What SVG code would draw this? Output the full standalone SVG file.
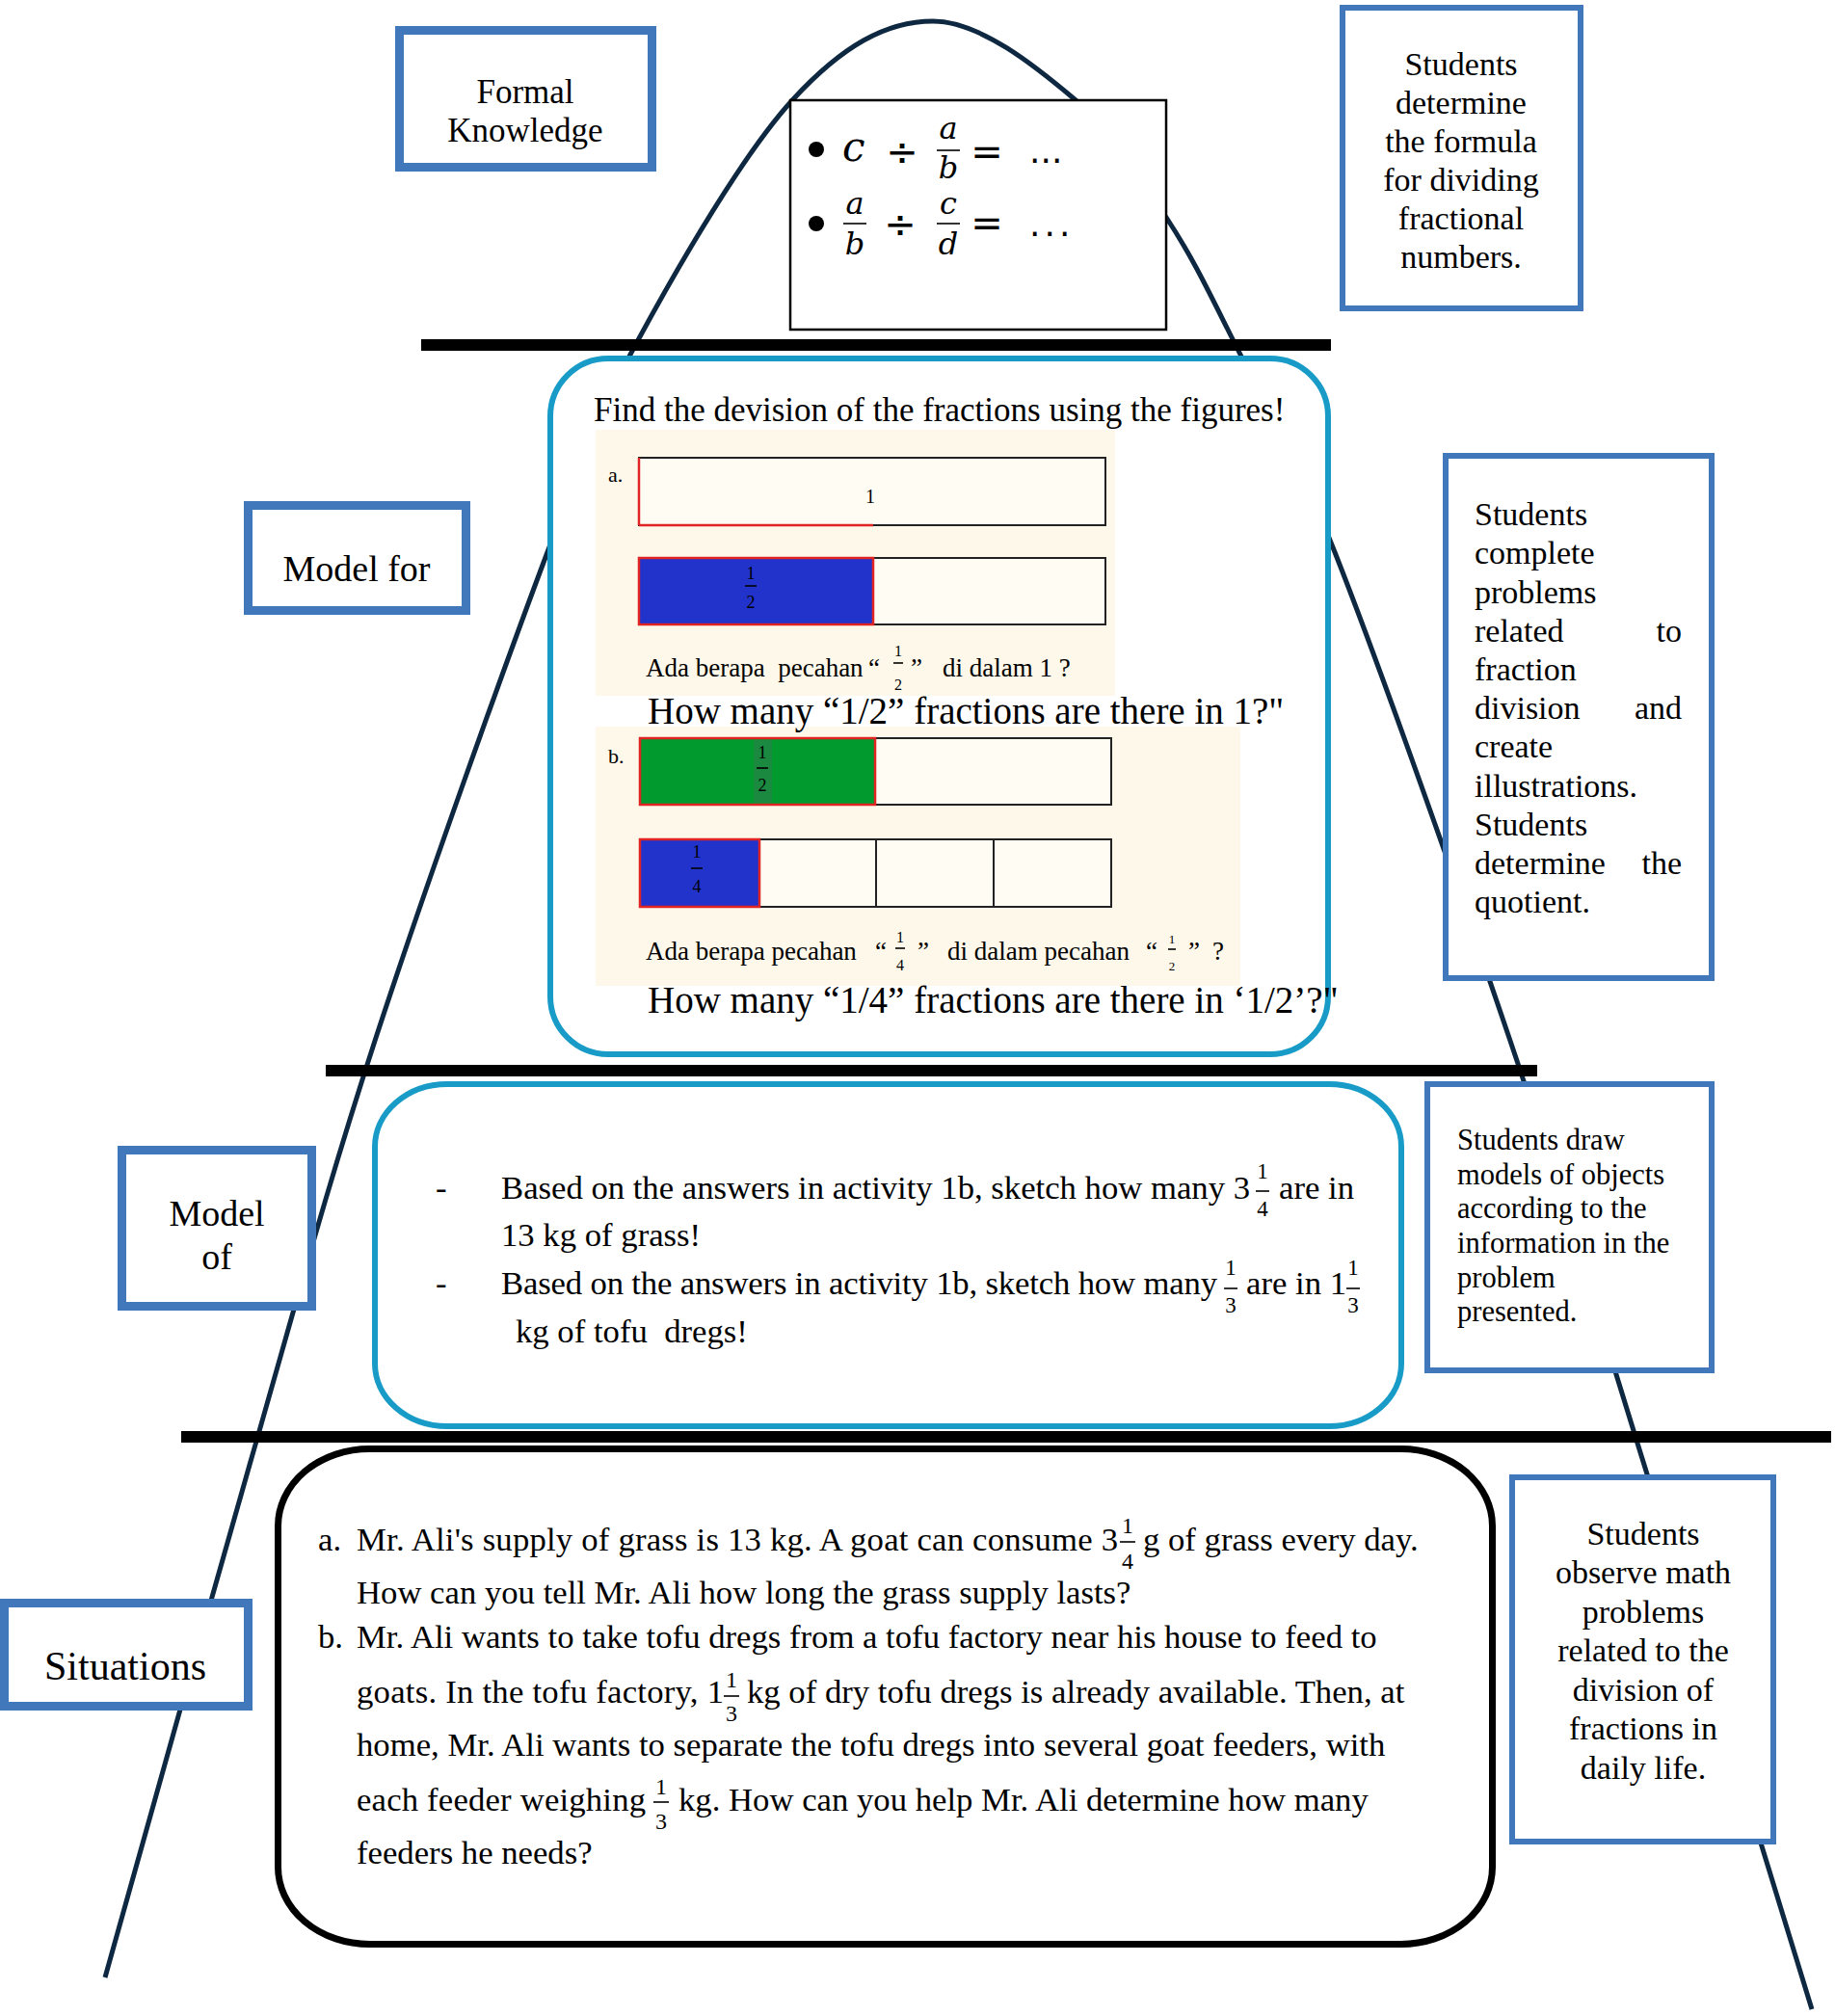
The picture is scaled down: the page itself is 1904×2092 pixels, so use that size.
<svg xmlns="http://www.w3.org/2000/svg" width="1904" height="2092" viewBox="0 0 1904 2092">
<style>
.t{font-family:"Liberation Serif","Times New Roman",serif;fill:#000}
.pre{white-space:pre}
.blue{fill:#fff;stroke:#4078bb}
.teal{fill:#fff;stroke:#189bc7;stroke-width:6}
.bar{fill:#000}
.fb{stroke:#000;stroke-width:1.6}
.m{font-family:"DejaVu Serif",serif;font-style:italic;fill:#000}
.ms{font-family:"DejaVu Sans",sans-serif;fill:#000}
.cell{fill:#fffcf3;stroke:#222;stroke-width:2}
.red{stroke:#e02424;stroke-width:2.5}
</style>
<rect width="1904" height="2092" fill="#fff"/>
<g id="connectors">
<path d="M109,2052 C134,1963 212.3,1682 259,1520 C305.7,1358 337.5,1237.8 389,1080 C440.5,922.2 522.5,694.2 568,573 C613.5,451.8 619.5,431.3 662,353 C704.5,274.7 772,158.2 823,103 C874,47.8 919.3,22 968,22 C1016.7,22 1074.5,68.8 1115,103 C1155.5,137.2 1183,184.2 1211,227 C1239,269.8 1254,302.3 1283,360 C1312,417.7 1337.7,453 1385,573 C1432.3,693 1513.5,922.2 1567,1080 C1620.5,1237.8 1653.8,1352.5 1706,1520 C1758.2,1687.5 1851,1990.8 1880,2085" fill="none" stroke="#0e2841" stroke-width="5"/>
<rect class="bar" x="437" y="352" width="944" height="12"/>
<rect class="bar" x="338" y="1105" width="1257" height="12"/>
<rect class="bar" x="188" y="1485" width="1712" height="12"/>
</g>
<g id="formal-knowledge">
<rect class="blue" x="414.5" y="31.5" width="262" height="142" stroke-width="9"/>
<text class="t" x="545" y="107" font-size="35" text-anchor="middle">Formal</text>
<text class="t" x="545" y="147" font-size="35" text-anchor="middle">Knowledge</text>
</g>
<g id="formula">
<rect x="820" y="104" width="390" height="238" fill="#fff" stroke="#000" stroke-width="2.5"/>
<circle cx="847" cy="155" r="8"/>
<circle cx="847" cy="232" r="8"/>
<text class="m" x="874" y="167" font-size="42">c</text>
<text class="ms" x="936" y="171" font-size="40" text-anchor="middle">÷</text>
<text class="m" x="984" y="144" font-size="32" text-anchor="middle">a</text>
<line class="fb" x1="972" y1="156" x2="996" y2="156" stroke-width="2.5"/>
<text class="m" x="984" y="185" font-size="32" text-anchor="middle">b</text>
<text class="ms" x="1024" y="171" font-size="40" text-anchor="middle">=</text>
<text class="ms" x="1068" y="169" font-size="36">...</text>
<text class="m" x="887" y="222" font-size="32" text-anchor="middle">a</text>
<line class="fb" x1="875" y1="232" x2="899" y2="232" stroke-width="2.5"/>
<text class="m" x="887" y="264" font-size="32" text-anchor="middle">b</text>
<text class="ms" x="934" y="246" font-size="40" text-anchor="middle">÷</text>
<text class="m" x="984" y="222" font-size="32" text-anchor="middle">c</text>
<line class="fb" x1="972" y1="232" x2="996" y2="232" stroke-width="2.5"/>
<text class="m" x="984" y="264" font-size="32" text-anchor="middle">d</text>
<text class="ms" x="1024" y="245" font-size="40" text-anchor="middle">=</text>
<text class="ms" x="1068" y="245" font-size="36" letter-spacing="4">...</text>
</g>
<g id="formula-note">
<rect class="blue" x="1393" y="8" width="247" height="312" stroke-width="6"/>
<g class="t" font-size="34" text-anchor="middle">
<text x="1516" y="78">Students</text>
<text x="1516" y="118">determine</text>
<text x="1516" y="158">the formula</text>
<text x="1516" y="198">for dividing</text>
<text x="1516" y="238">fractional</text>
<text x="1516" y="278">numbers.</text>
</g>
</g>
<g id="model-for-label">
<rect class="blue" x="257.5" y="524.5" width="226" height="109" stroke-width="9"/>
<text class="t" x="370" y="603" font-size="38" text-anchor="middle">Model for</text>
</g>
<g id="model-for">
<rect class="teal" x="571" y="372" width="807" height="722" rx="60" ry="60"/>
<text class="t" x="616" y="437" font-size="35">Find the devision of the fractions using the figures!</text>
<rect x="618" y="446" width="539" height="276" fill="#fdf8ea"/>
<rect x="618" y="754" width="669" height="269" fill="#fdf8ea"/>
<text class="t" x="631" y="500" font-size="22">a.</text>
<rect class="cell" x="663" y="475" width="484" height="70"/>
<line class="red" x1="663" y1="475" x2="663" y2="545"/>
<line class="red" x1="663" y1="545" x2="906" y2="545"/>
<text class="t" x="903" y="522" font-size="20" text-anchor="middle">1</text>
<rect class="cell" x="663" y="579" width="484" height="69"/>
<rect x="663" y="579" width="243" height="69" fill="#2233cc" stroke="#e02424" stroke-width="2.5"/>
<text class="t" x="779" y="601" font-size="18" text-anchor="middle">1</text>
<line class="fb" x1="773" y1="608" x2="785" y2="608"/>
<text class="t" x="779" y="631" font-size="18" text-anchor="middle">2</text>
<text class="t pre" x="670" y="702" font-size="27">Ada berapa  pecahan</text>
<text class="t" x="901" y="702" font-size="27">“</text>
<text class="t" x="932" y="681" font-size="16" text-anchor="middle">1</text>
<line class="fb" x1="927" y1="688" x2="937" y2="688" stroke-width="1.2"/>
<text class="t" x="932" y="716" font-size="16" text-anchor="middle">2</text>
<text class="t" x="945" y="702" font-size="27">”</text>
<text class="t" x="978" y="702" font-size="27">di dalam 1 ?</text>
<text class="t" x="672" y="751" font-size="39">How many “1/2” fractions are there in 1?"</text>
<text class="t" x="631" y="792" font-size="22">b.</text>
<rect class="cell" x="664" y="766" width="489" height="69"/>
<rect x="664" y="766" width="244" height="69" fill="#009a2e" stroke="#e02424" stroke-width="2.5"/>
<rect x="782" y="768" width="19" height="65" fill="#1b8a40"/>
<text class="t" x="791" y="787" font-size="18" text-anchor="middle" fill="#222">1</text>
<line class="fb" x1="785" y1="797" x2="797" y2="797"/>
<text class="t" x="791" y="821" font-size="18" text-anchor="middle" fill="#222">2</text>
<rect class="cell" x="664" y="871" width="489" height="70"/>
<line x1="909" y1="871" x2="909" y2="941" stroke="#222" stroke-width="2"/>
<line x1="1031" y1="871" x2="1031" y2="941" stroke="#222" stroke-width="2"/>
<rect x="664" y="871" width="124" height="70" fill="#2233cc" stroke="#e02424" stroke-width="2.5"/>
<text class="t" x="723" y="890" font-size="18" text-anchor="middle">1</text>
<line class="fb" x1="717" y1="901" x2="729" y2="901"/>
<text class="t" x="723" y="926" font-size="18" text-anchor="middle">4</text>
<text class="t" x="670" y="996" font-size="27">Ada berapa pecahan</text>
<text class="t" x="908" y="996" font-size="27">“</text>
<text class="t" x="934" y="978" font-size="16" text-anchor="middle">1</text>
<line class="fb" x1="929" y1="984" x2="939" y2="984" stroke-width="1.2"/>
<text class="t" x="934" y="1007" font-size="16" text-anchor="middle">4</text>
<text class="t" x="952" y="996" font-size="27">”</text>
<text class="t" x="983" y="996" font-size="27">di dalam pecahan</text>
<text class="t" x="1189" y="996" font-size="27">“</text>
<text class="t" x="1216" y="979" font-size="13" text-anchor="middle">1</text>
<line class="fb" x1="1212" y1="985" x2="1220" y2="985" stroke-width="1"/>
<text class="t" x="1216" y="1007" font-size="13" text-anchor="middle">2</text>
<text class="t" x="1233" y="996" font-size="27">”</text>
<text class="t" x="1258" y="996" font-size="27">?</text>
<text class="t" x="672" y="1051" font-size="39">How many “1/4” fractions are there in ‘1/2’?"</text>
</g>
<g id="model-for-note">
<rect class="blue" x="1500" y="473" width="276" height="542" stroke-width="6"/>
<g class="t" font-size="34">
<text x="1530" y="545">Students</text>
<text x="1530" y="585">complete</text>
<text x="1530" y="626">problems</text>
<text x="1530" y="666">related</text>
<text x="1745" y="666" text-anchor="end">to</text>
<text x="1530" y="706">fraction</text>
<text x="1530" y="746">division</text>
<text x="1745" y="746" text-anchor="end">and</text>
<text x="1530" y="786">create</text>
<text x="1530" y="827">illustrations.</text>
<text x="1530" y="867">Students</text>
<text x="1530" y="907">determine</text>
<text x="1745" y="907" text-anchor="end">the</text>
<text x="1530" y="947">quotient.</text>
</g>
</g>
<g id="model-of-label">
<rect class="blue" x="126.5" y="1193.5" width="197" height="162" stroke-width="9"/>
<text class="t" x="225" y="1272" font-size="38" text-anchor="middle">Model</text>
<text class="t" x="225" y="1317" font-size="38" text-anchor="middle">of</text>
</g>
<g id="model-of">
<rect class="teal" x="389" y="1125" width="1065" height="355" rx="75" ry="65"/>
<g class="t" font-size="34.7">
<text x="452" y="1244">-</text>
<text x="520" y="1244" textLength="777" lengthAdjust="spacing">Based on the answers in activity 1b, sketch how many 3</text>
<text x="1310" y="1223" font-size="23" text-anchor="middle">1</text>
<line class="fb" x1="1303" y1="1236" x2="1317" y2="1236"/>
<text x="1310" y="1262" font-size="23" text-anchor="middle">4</text>
<text x="1327" y="1244">are in</text>
<text x="520" y="1293">13 kg of grass!</text>
<text x="452" y="1343">-</text>
<text x="520" y="1343" textLength="743" lengthAdjust="spacing">Based on the answers in activity 1b, sketch how many</text>
<text x="1277" y="1323" font-size="23" text-anchor="middle">1</text>
<line class="fb" x1="1270" y1="1337" x2="1284" y2="1337"/>
<text x="1277" y="1362" font-size="23" text-anchor="middle">3</text>
<text x="1293" y="1343">are in 1</text>
<text x="1404" y="1323" font-size="23" text-anchor="middle">1</text>
<line class="fb" x1="1397" y1="1337" x2="1411" y2="1337"/>
<text x="1404" y="1362" font-size="23" text-anchor="middle">3</text>
<text class="pre" x="535" y="1393">kg of tofu  dregs!</text>
</g>
</g>
<g id="model-of-note">
<rect class="blue" x="1481" y="1125" width="295" height="297" stroke-width="6"/>
<g class="t" font-size="30.5">
<text x="1512" y="1193">Students draw</text>
<text x="1512" y="1229">models of objects</text>
<text x="1512" y="1264">according to the</text>
<text x="1512" y="1300">information in the</text>
<text x="1512" y="1336">problem</text>
<text x="1512" y="1371">presented.</text>
</g>
</g>
<g id="situations-label">
<rect class="blue" x="4.5" y="1663.5" width="253" height="107" stroke-width="9"/>
<text class="t" x="130" y="1743" font-size="42" text-anchor="middle">Situations</text>
</g>
<g id="situations">
<rect x="288.5" y="1503.5" width="1260" height="514" rx="95" ry="80" fill="#fff" stroke="#000" stroke-width="7"/>
<g class="t" font-size="34.7">
<text x="330" y="1609">a.</text>
<text x="370" y="1609" textLength="790" lengthAdjust="spacing">Mr. Ali's supply of grass is 13 kg. A goat can consume 3</text>
<text x="1170" y="1591" font-size="24" text-anchor="middle">1</text>
<line class="fb" x1="1162" y1="1600" x2="1178" y2="1600"/>
<text x="1170" y="1628" font-size="24" text-anchor="middle">4</text>
<text x="1186" y="1609">g of grass every day.</text>
<text x="370" y="1664">How can you tell Mr. Ali how long the grass supply lasts?</text>
<text x="330" y="1710">b.</text>
<text x="370" y="1710">Mr. Ali wants to take tofu dregs from a tofu factory near his house to feed to</text>
<text x="370" y="1767" textLength="381" lengthAdjust="spacing">goats. In the tofu factory, 1</text>
<text x="759" y="1751" font-size="24" text-anchor="middle">1</text>
<line class="fb" x1="751" y1="1760" x2="767" y2="1760"/>
<text x="759" y="1786" font-size="24" text-anchor="middle">3</text>
<text x="775" y="1767">kg of dry tofu dregs is already available. Then, at</text>
<text x="370" y="1822">home, Mr. Ali wants to separate the tofu dregs into several goat feeders, with</text>
<text x="370" y="1879" textLength="300" lengthAdjust="spacing">each feeder weighing</text>
<text x="686" y="1862" font-size="24" text-anchor="middle">1</text>
<line class="fb" x1="678" y1="1870" x2="694" y2="1870"/>
<text x="686" y="1898" font-size="24" text-anchor="middle">3</text>
<text x="704" y="1879">kg. How can you help Mr. Ali determine how many</text>
<text x="370" y="1934">feeders he needs?</text>
</g>
</g>
<g id="situations-note">
<rect class="blue" x="1569" y="1533" width="271" height="378" stroke-width="6"/>
<g class="t" font-size="34" text-anchor="middle">
<text x="1705" y="1603">Students</text>
<text x="1705" y="1643">observe math</text>
<text x="1705" y="1684">problems</text>
<text x="1705" y="1724">related to the</text>
<text x="1705" y="1765">division of</text>
<text x="1705" y="1846">daily life.</text>
<text x="1705" y="1805">fractions in</text>
</g>
</g>
</svg>
